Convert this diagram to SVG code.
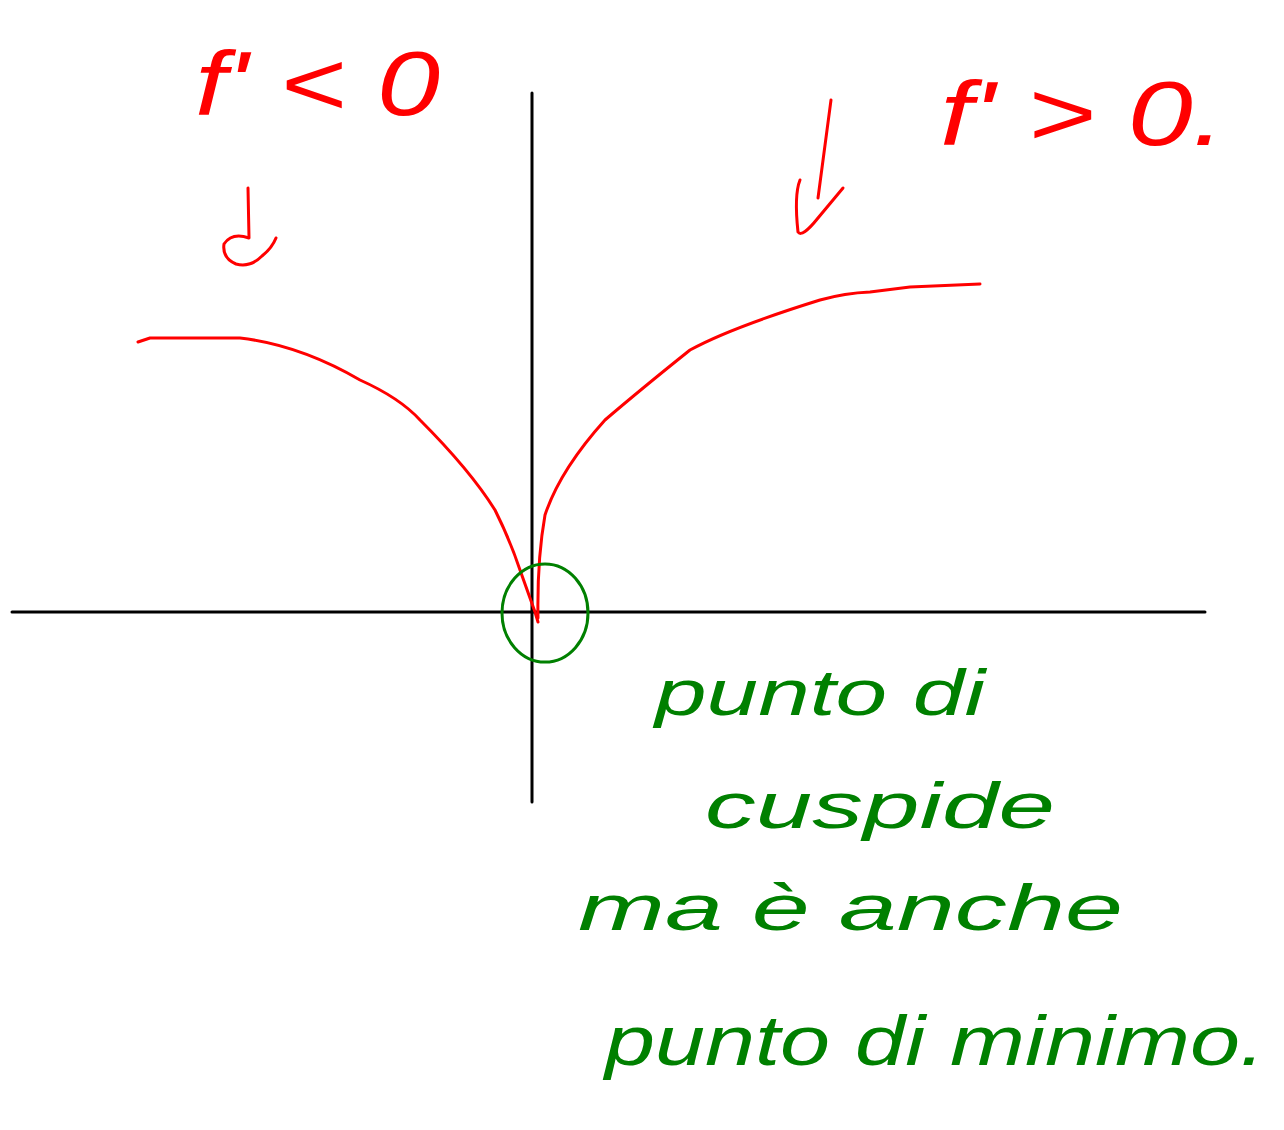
<svg xmlns="http://www.w3.org/2000/svg" width="1284" height="1130" viewBox="0 0 1284 1130">
<style>
.axis{stroke:#000;stroke-width:3;fill:none;stroke-linecap:round}
.red{stroke:#f00;stroke-width:3;fill:none;stroke-linecap:round;stroke-linejoin:round}
.grn{stroke:#008000;stroke-width:3;fill:none}
.tr{fill:#f00;font-family:"Liberation Sans",sans-serif;font-style:italic}
.tg{fill:#008000;font-family:"Liberation Sans",sans-serif;font-style:italic}
</style>
<rect width="1284" height="1130" fill="#fff"/>
<g id="connectors">
<path class="axis" d="M12,612 L1205,612"/>
<path class="axis" d="M532,93 L532,802"/>
<path class="red" d="M138,342 L150,338 L240,338 Q300,345 360,380 Q400,398 420,420 Q470,470 495,510 Q510,540 520,570 L535,612 L538,622"/>
<path class="red" d="M538,618 Q537,560 545,515 Q560,470 605,420 Q640,390 690,350 Q730,328 820,300 Q845,293 870,292 L910,287 L980,284"/>
<path class="red" d="M248,188 L249,238 Q232,232 224,244 Q222,258 236,264 Q250,268 262,256 Q272,248 276,238"/>
<path class="red" d="M831,100 L818,198 M800,180 Q794,195 798,232 Q802,238 818,218 L843,188"/>
</g>
<g id="cusp-circle">
<ellipse class="grn" cx="545" cy="613" rx="43" ry="49"/>
</g>
<g id="label-left">
<text class="tr" x="195" y="115" font-size="90" textLength="245" lengthAdjust="spacingAndGlyphs">f' &lt; 0</text>
</g>
<g id="label-right">
<text class="tr" x="940" y="145" font-size="90" textLength="285" lengthAdjust="spacingAndGlyphs">f' &gt; 0.</text>
</g>
<g id="note">
<text class="tg" x="655" y="715" font-size="64" textLength="330" lengthAdjust="spacingAndGlyphs">punto di</text>
<text class="tg" x="705" y="828" font-size="64" textLength="350" lengthAdjust="spacingAndGlyphs">cuspide</text>
<text class="tg" x="578" y="930" font-size="64" textLength="545" lengthAdjust="spacingAndGlyphs">ma è anche</text>
<text class="tg" x="605" y="1065" font-size="70" textLength="660" lengthAdjust="spacingAndGlyphs">punto di minimo.</text>
</g>
</svg>
